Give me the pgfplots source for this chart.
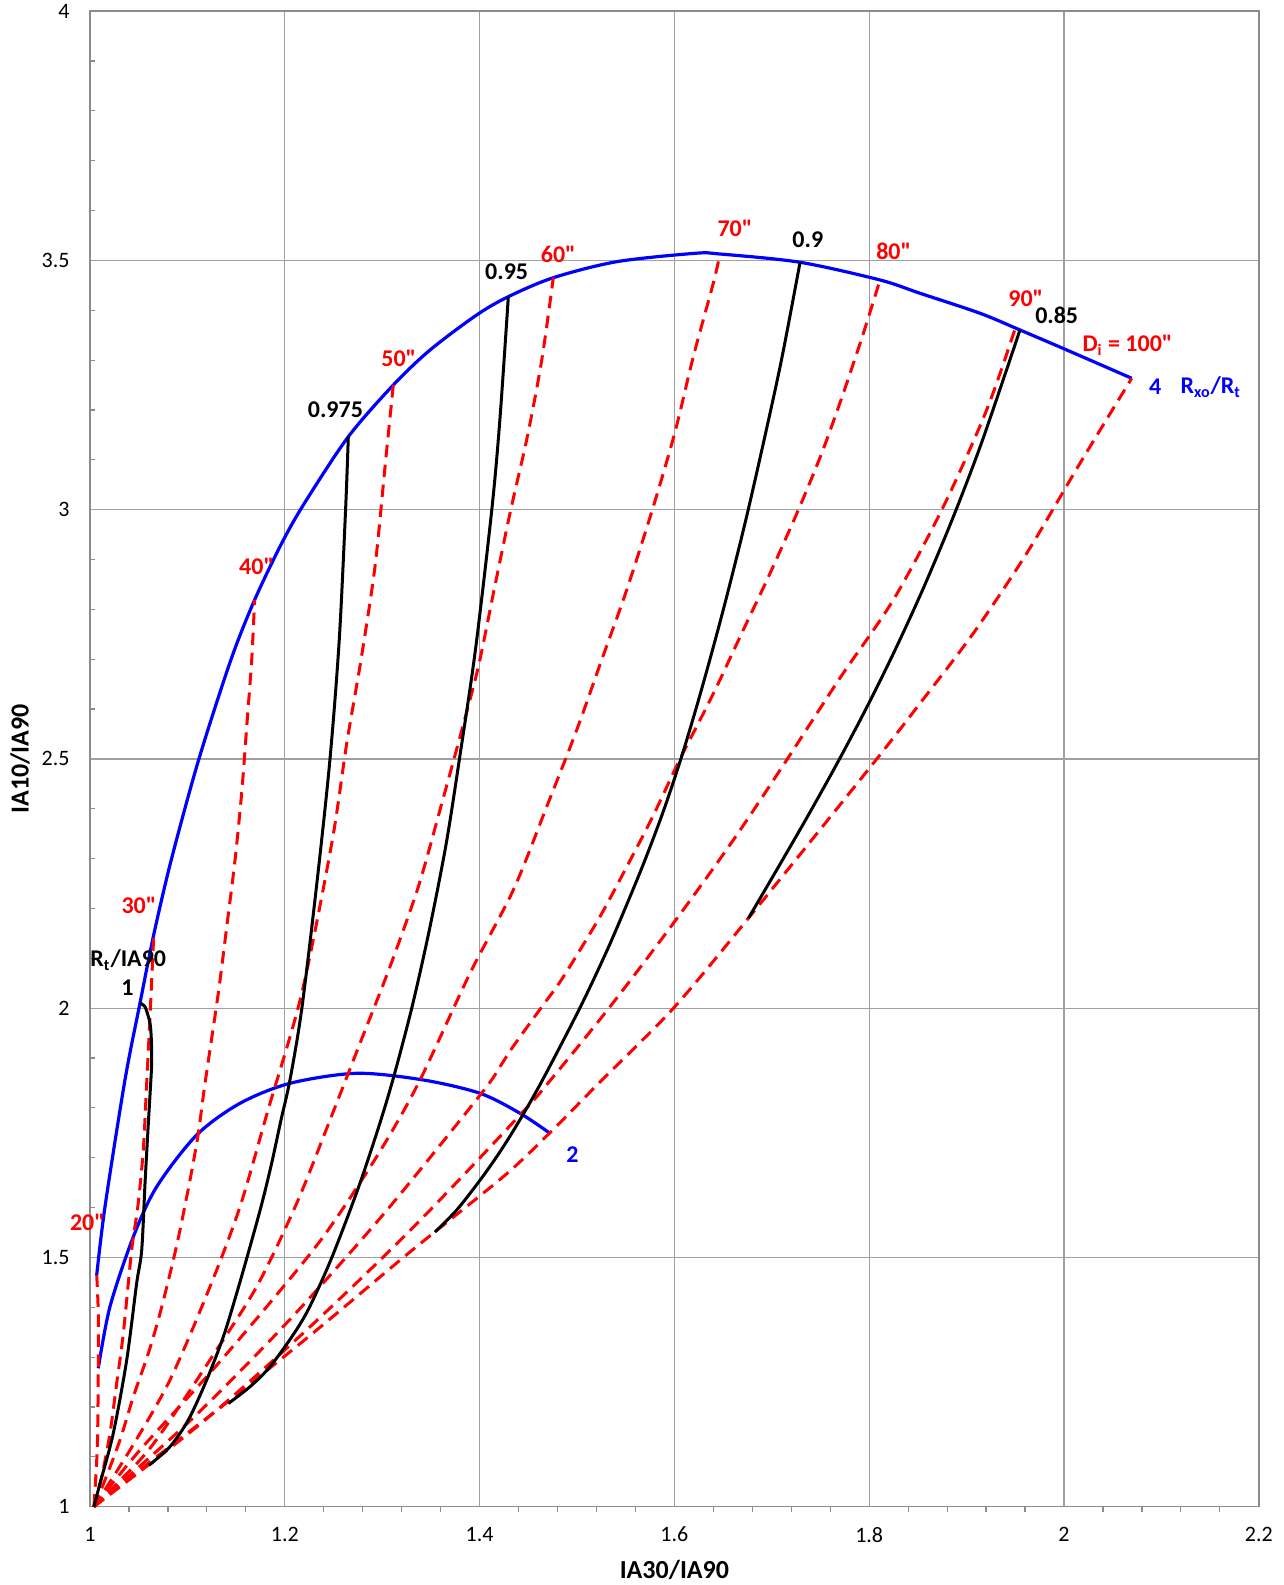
\documentclass[border=0pt]{standalone}
\usepackage{fontspec}
\setmainfont{Carlito}[Ligatures=TeXOff]
\usepackage{pgfplots}
\pgfplotsset{compat=1.18}
\definecolor{gridgray}{RGB}{160,160,160}
\definecolor{axisgray}{RGB}{140,140,140}
\definecolor{rxoblue}{RGB}{0,0,255}
\definecolor{dired}{RGB}{255,0,0}
\newcommand{\lbl}{\fontsize{12}{14}\selectfont\bfseries}
\begin{document}
\begin{tikzpicture}
\begin{axis}[
  scale only axis, width=584.4pt, height=747.75pt,
  xmin=1, xmax=2.2, ymin=1, ymax=4,
  xtick={1,1.2,1.4,1.6,1.8,2,2.2},
  ytick={1,1.5,2,2.5,3,3.5,4},
  minor x tick num=4, minor y tick num=4,
  grid=major,
  major grid style={draw=gridgray, line width=0.6pt},
  axis line style={draw=axisgray, line width=0.7pt},
  tick align=outside, tick pos=left,
  major tick length=0pt, minor tick length=2.5pt,
  minor tick style={draw=axisgray, line width=0.6pt},
  every minor y tick/.append style={xshift=2.5pt},
  /pgf/number format/assume math mode=true,
  ticklabel style={font=\fontsize{11}{13}\selectfont, inner sep=0pt},
  xticklabel style={anchor=north, yshift=-10pt},
  yticklabel style={anchor=east, xshift=-10pt},
  xlabel={IA30/IA90}, ylabel={IA10/IA90},
  label style={font=\fontsize{13}{15}\selectfont\bfseries},
  xlabel style={at={(axis description cs:0.5,-0.0423)}, anchor=center},
  ylabel style={at={(axis description cs:-0.0599,0.5)}, anchor=center},
  clip=false,
]
\coordinate (bl) at (rel axis cs:0,0);
\coordinate (tr) at (rel axis cs:1,1);

% Rxo/Rt = 4
\addplot[rxoblue, line width=1.6pt, smooth] coordinates {
(1.0069,1.4648)(1.0154,1.6018)(1.0359,1.8560)(1.0513,2.0098)(1.0655,2.1480)
(1.0834,2.2973)(1.1115,2.4979)(1.1446,2.6985)(1.1690,2.8190)(1.1968,2.9326)
(1.2201,3.0128)(1.2652,3.1464)(1.3114,3.2501)(1.3491,3.3203)(1.3970,3.3906)
(1.4295,3.4273)(1.4757,3.4654)(1.5408,3.4975)(1.6211,3.5143)(1.6468,3.5129)
(1.7290,3.4963)(1.8111,3.4608)(1.8522,3.4341)(1.9138,3.3940)(1.9548,3.3605)
(2.0028,3.3204)(2.0695,3.2636)};
% Rxo/Rt = 2
\addplot[rxoblue, line width=1.6pt, smooth] coordinates {
(1.0085,1.2776)(1.0205,1.4012)(1.0445,1.5416)(1.0685,1.6419)(1.1095,1.7456)
(1.1540,1.8092)(1.2053,1.8493)(1.2738,1.8694)(1.3422,1.8560)(1.4004,1.8293)
(1.4415,1.7892)(1.4723,1.7490)};

% invasion diameter lines, 20" ... 100"
\pgfplotsset{dline/.style={dired, line width=1.5pt, dash pattern=on 6.25pt off 3.75pt, smooth}}
\addplot[dline] coordinates {(1.0040,1.0000)(1.0075,1.1200)(1.0085,1.2776)(1.0085,1.3878)(1.0069,1.4648)};
\addplot[dline] coordinates {(1.0040,1.0000)(1.0120,1.0600)(1.0205,1.1472)(1.0274,1.2475)(1.0342,1.3478)
(1.0428,1.5150)(1.0493,1.6052)(1.0547,1.7156)(1.0582,1.8493)(1.0616,1.9830)(1.0655,2.1480)};
\addplot[dline] coordinates {(1.0040,1.0000)(1.0154,1.0536)(1.0308,1.1338)(1.0445,1.2207)(1.0599,1.3077)
(1.0719,1.3880)(1.0839,1.4814)(1.0924,1.5550)(1.1027,1.6554)(1.1112,1.7490)(1.1181,1.8493)
(1.1317,2.0299)(1.1404,2.1635)(1.1489,2.2973)(1.1557,2.4311)(1.1609,2.5647)(1.1660,2.6985)(1.1690,2.8190)};
\addplot[dline] coordinates {(1.0040,1.0000)(1.0411,1.1137)(1.0821,1.2542)(1.1232,1.4413)(1.1540,1.6018)
(1.1828,1.7958)(1.2174,2.0299)(1.2482,2.3308)(1.2636,2.5314)(1.2782,2.6985)(1.2926,2.8857)
(1.3029,3.0863)(1.3114,3.2501)};
\addplot[dline] coordinates {(1.0040,1.0000)(1.0513,1.0937)(1.0753,1.1539)(1.1232,1.2944)(1.1711,1.4413)
(1.2122,1.6086)(1.2464,1.7757)(1.2772,1.9296)(1.3080,2.0833)(1.3371,2.2437)(1.3593,2.3976)
(1.3799,2.5446)(1.3987,2.6850)(1.4160,2.8500)(1.4320,3.0000)(1.4490,3.1464)(1.4638,3.3003)(1.4757,3.4654)};
\addplot[dline] coordinates {(1.0040,1.0000)(1.0513,1.1137)(1.1198,1.2608)(1.1814,1.4012)(1.2395,1.5416)
(1.2943,1.7021)(1.3371,1.8493)(1.3901,2.0700)(1.4346,2.2371)(1.4689,2.4042)(1.4997,2.5581)
(1.5253,2.6985)(1.5510,2.8389)(1.5783,3.0060)(1.6006,3.1558)(1.6194,3.3069)(1.6399,3.4542)(1.6468,3.5129)};
\addplot[dline] coordinates {(1.0040,1.0000)(1.1042,1.1751)(1.2033,1.3715)(1.3024,1.5892)(1.4014,1.8279)
(1.4209,1.8826)(1.4343,1.9228)(1.4630,2.0004)(1.4825,2.0526)(1.5031,2.1168)(1.5257,2.1910)
(1.5493,2.2772)(1.5770,2.3815)(1.6057,2.4999)(1.6263,2.5781)(1.6434,2.6449)(1.6707,2.7587)
(1.6982,2.8724)(1.7272,2.9994)(1.7512,3.1131)(1.7734,3.2335)(1.7940,3.3539)(1.8111,3.4608)};
\addplot[dline] coordinates {(1.0040,1.0000)(1.1155,1.1695)(1.2238,1.3571)(1.3332,1.5631)(1.4425,1.7878)
(1.4757,1.8626)(1.5339,2.0030)(1.5989,2.1703)(1.6605,2.3374)(1.7153,2.4979)(1.7700,2.6624)
(1.8247,2.8189)(1.8761,3.0060)(1.9206,3.2001)(1.9500,3.3640)};
\addplot[dline] coordinates {(1.0040,1.0000)(1.0616,1.0897)(1.1437,1.2140)(1.2328,1.3545)(1.3285,1.5109)
(1.4243,1.6620)(1.4716,1.7490)(1.5236,1.8520)(1.5989,1.9998)(1.6759,2.1803)(1.8001,2.4812)
(1.8522,2.6116)(1.9069,2.7521)(1.9617,2.9125)(2.0164,3.0931)(2.0695,3.2636)};

% Rt/IA90 lines, 1 ... 0.85
\pgfplotsset{rline/.style={black, line width=1.5pt, smooth}}
\addplot[rline] coordinates {(1.0040,1.0000)(1.0103,1.0469)(1.0239,1.1472)(1.0377,1.2943)(1.0479,1.4481)
(1.0531,1.5150)(1.0565,1.6487)(1.0595,1.7557)(1.0623,1.8493)(1.0633,1.8895)(1.0630,1.9350)
(1.0616,1.9697)(1.0565,2.0030)(1.0513,2.0098)};
\addplot[rline] coordinates {(1.0605,1.0830)(1.0821,1.1204)(1.1009,1.1739)(1.1198,1.2542)(1.1369,1.3410)
(1.1506,1.4281)(1.1643,1.5216)(1.1765,1.6086)(1.1865,1.6889)(1.1961,1.7757)(1.2053,1.8560)
(1.2175,1.9998)(1.2333,2.2572)(1.2464,2.4999)(1.2559,2.7386)(1.2624,2.9994)(1.2652,3.1464)};
\addplot[rline] coordinates {(1.1420,1.2070)(1.1643,1.2407)(1.1848,1.2808)(1.2096,1.3478)(1.2256,1.4012)
(1.2482,1.4995)(1.2747,1.6353)(1.2954,1.7557)(1.3109,1.8560)(1.3303,1.9998)(1.3484,2.1569)
(1.3657,2.3300)(1.3793,2.4999)(1.3957,2.7186)(1.4125,2.9994)(1.4208,3.1800)(1.4295,3.4273)};
\addplot[rline] coordinates {(1.3542,1.5510)(1.3765,1.5952)(1.4006,1.6554)(1.4208,1.7115)(1.4413,1.7757)
(1.4646,1.8560)(1.5036,2.0030)(1.5341,2.1302)(1.5657,2.2772)(1.5879,2.3910)(1.6063,2.4979)
(1.6218,2.5982)(1.6363,2.6985)(1.6528,2.8189)(1.6733,2.9794)(1.6936,3.1532)(1.7106,3.3069)(1.7290,3.4963)};
\addplot[rline] coordinates {(1.6759,2.1803)(1.7059,2.2803)(1.7359,2.3818)(1.7659,2.4869)(1.7959,2.5975)
(1.8259,2.7158)(1.8559,2.8438)(1.8859,2.9836)(1.9159,3.1372)(1.9548,3.3605)};

% labels
\node[text=dired, font=\lbl] at (axis cs:0.9974,1.5697) {20"};
\node[text=dired, font=\lbl] at (axis cs:1.0503,2.2071) {30"};
\node[text=dired, font=\lbl] at (axis cs:1.1711,2.8857) {40"};
\node[text=dired, font=\lbl] at (axis cs:1.3170,3.3037) {50"};
\node[text=dired, font=\lbl] at (axis cs:1.4808,3.5125) {60"};
\node[text=dired, font=\lbl] at (axis cs:1.6622,3.5640) {70"};
\node[text=dired, font=\lbl] at (axis cs:1.8252,3.5175) {80"};
\node[text=dired, font=\lbl] at (axis cs:1.9608,3.4241) {90"};
\node[text=dired, font=\lbl, anchor=base] at (axis cs:2.0652,3.3170) {D\textsubscript{i} = 100"};
\node[font=\lbl] at (axis cs:1.2520,3.2000) {0.975};
\node[font=\lbl] at (axis cs:1.4278,3.4774) {0.95};
\node[font=\lbl] at (axis cs:1.7370,3.5420) {0.9};
\node[font=\lbl] at (axis cs:1.9925,3.3890) {0.85};
\node[font=\lbl, anchor=base] at (axis cs:1.0393,2.0832) {R\textsubscript{t}/IA90};
\node[font=\lbl] at (axis cs:1.0385,2.0415) {1};
\node[text=rxoblue, font=\lbl] at (axis cs:1.4954,1.7071) {2};
\node[text=rxoblue, font=\lbl, anchor=base] at (axis cs:2.0937,3.2307) {4};
\node[text=rxoblue, font=\lbl, anchor=base] at (axis cs:2.1507,3.2321) {R\textsubscript{xo}/R\textsubscript{t}};
\end{axis}
\pgfresetboundingbox
\path[use as bounding box] ([shift={(-45pt,-39.15pt)}]bl) rectangle ([shift={(12.6pt,5.6pt)}]tr);
\end{tikzpicture}
\end{document}
